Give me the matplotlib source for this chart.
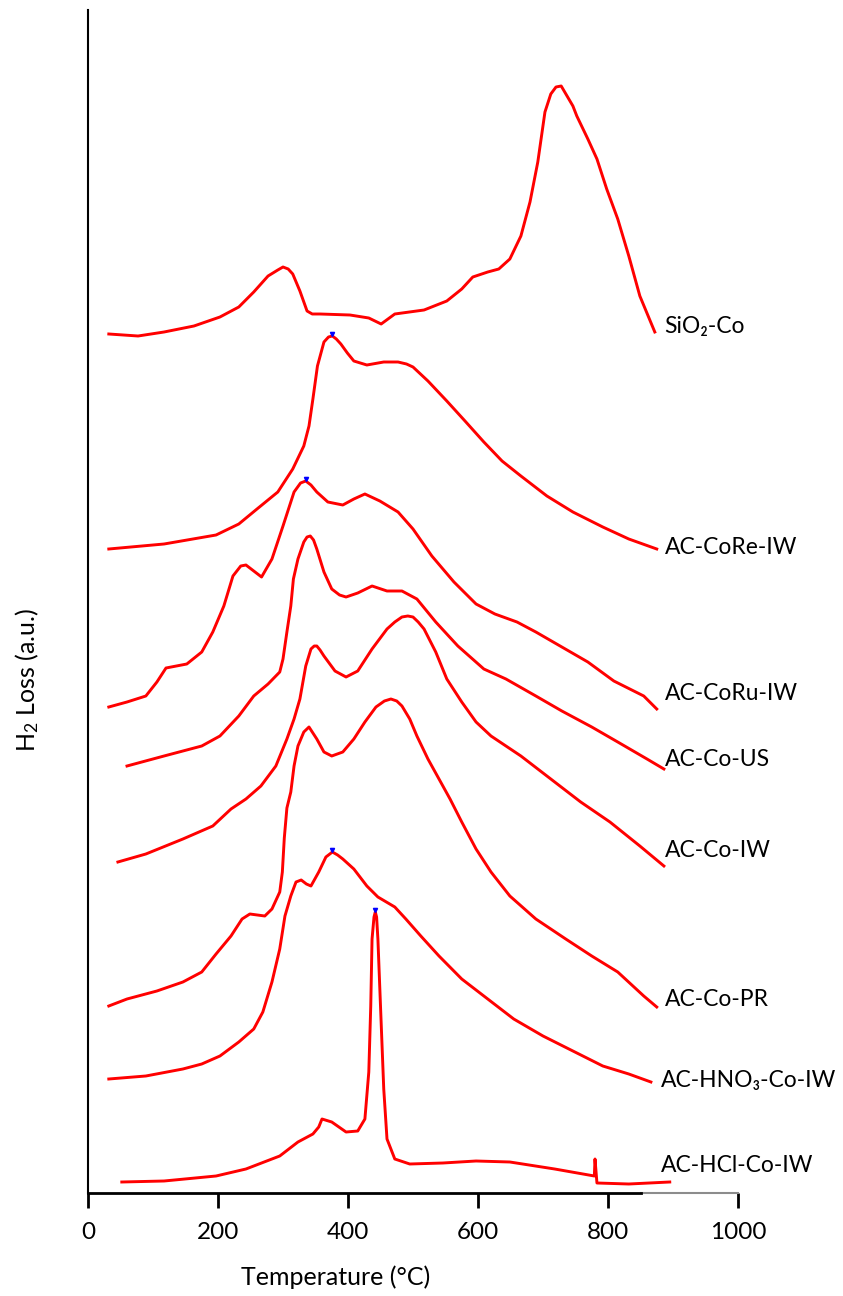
import matplotlib
matplotlib.use('Agg')
import matplotlib.pyplot as plt

plt.rcParams['font.family'] = ['Lato', 'DejaVu Sans']
plt.rcParams['mathtext.fontset'] = 'custom'
plt.rcParams['mathtext.rm'] = 'Lato'
plt.rcParams['mathtext.default'] = 'regular'

# TPR profiles, temperature (C) vs H2 signal (a.u., curves already offset)
sio2_t = [32, 77, 117, 163, 203, 232, 255, 277, 292, 300, 308, 315, 326, 337, 345, 357,
          403, 432, 451, 472, 517, 552, 575, 592, 615, 632, 649, 666, 680, 692, 703,
          712, 720, 728, 737, 746, 752, 769, 783, 798, 815, 832, 849, 872]
sio2_y = [859, 857, 861, 867, 876, 886, 901, 917, 923, 926, 924, 919, 902, 882, 879, 879,
          878, 875, 869, 879, 883, 892, 904, 916, 921, 924, 934, 957, 991, 1031, 1081,
          1099, 1106, 1107, 1097, 1087, 1077, 1054, 1034, 1004, 974, 937, 897, 861]

core_t = [32, 117, 197, 232, 260, 292, 315, 332, 340, 346, 353, 363, 370, 376, 382, 389,
          399, 409, 429, 455, 477, 490, 500, 523, 552, 580, 609, 637, 666, 706, 746,
          792, 832, 875]
core_y = [644, 649, 658, 669, 684, 701, 724, 747, 767, 794, 827, 851, 856, 857, 854, 849,
          840, 832, 828, 831, 831, 829, 826, 812, 792, 772, 751, 732, 717, 697, 681,
          666, 654, 644]

coru_t = [32, 60, 89, 106, 120, 152, 175, 192, 209, 223, 235, 243, 255, 267, 283, 300,
          317, 327, 335, 343, 352, 369, 392, 409, 426, 449, 477, 500, 529, 563, 597,
          626, 660, 689, 729, 769, 809, 855, 875]
coru_y = [486, 491, 497, 511, 525, 529, 541, 561, 587, 617, 627, 628, 622, 616, 634, 667,
          701, 710, 712, 708, 701, 691, 688, 694, 699, 692, 681, 664, 637, 611, 589,
          579, 571, 561, 546, 531, 512, 497, 484]

cous_t = [60, 117, 175, 203, 232, 255, 277, 295, 300, 306, 312, 316, 323, 332, 337, 342,
          347, 352, 363, 375, 387, 397, 415, 437, 460, 483, 506, 535, 569, 609, 643,
          689, 729, 775, 815, 860, 886]
cous_y = [427, 437, 447, 457, 477, 497, 509, 521, 534, 561, 587, 614, 634, 651, 656, 657,
          653, 644, 621, 604, 598, 596, 600, 607, 602, 602, 594, 571, 547, 524, 514,
          497, 482, 466, 451, 434, 424]

coiw_t = [46, 89, 146, 192, 220, 243, 266, 289, 306, 317, 326, 335, 343, 348, 352, 357,
          363, 380, 397, 415, 437, 460, 472, 483, 492, 500, 508, 517, 535, 552, 575,
          597, 620, 666, 712, 758, 803, 849, 886]
coiw_y = [331, 339, 354, 367, 384, 394, 407, 427, 454, 474, 494, 527, 544, 547, 547, 543,
          537, 522, 516, 522, 544, 564, 571, 576, 577, 576, 571, 564, 541, 514, 491,
          471, 457, 437, 414, 391, 371, 347, 327]

copr_t = [32, 60, 106, 146, 175, 197, 220, 237, 249, 272, 283, 295, 299, 302, 306, 312,
          317, 323, 332, 340, 352, 363, 375, 392, 409, 426, 443, 456, 466, 475, 483,
          495, 506, 523, 540, 557, 575, 597, 620, 649, 689, 735, 775, 815, 855, 875]
copr_y = [187, 194, 202, 211, 221, 239, 257, 274, 279, 277, 284, 301, 321, 355, 385, 401,
          427, 447, 461, 466, 454, 441, 437, 441, 454, 471, 486, 492, 494, 492, 487,
          474, 457, 434, 414, 394, 371, 344, 321, 297, 274, 254, 237, 221, 197, 186]

hno3_t = [32, 89, 146, 175, 203, 232, 255, 269, 283, 295, 303, 312, 320, 328, 336, 343,
          355, 366, 376, 384, 392, 409, 429, 446, 472, 489, 512, 540, 575, 609, 655,
          700, 746, 792, 832, 866]
hno3_y = [114, 117, 124, 129, 137, 151, 164, 181, 211, 244, 277, 297, 311, 313, 309, 307,
          321, 336, 341, 338, 334, 324, 307, 296, 286, 274, 257, 237, 214, 197, 174,
          157, 142, 127, 119, 111]

hcl_t = [52, 117, 197, 243, 295, 323, 346, 355, 360, 375, 397, 415, 426, 432, 435, 437,
         440, 442, 444, 446, 450, 455, 460, 472, 495, 546, 597, 649, 718, 779, 780,
         783, 832, 895]
hcl_y = [11, 12, 17, 24, 37, 51, 59, 66, 74, 71, 61, 62, 74, 121, 187, 254,
         276, 281, 276, 254, 187, 104, 54, 34, 29, 30, 32, 31, 24, 17, 34,
         10, 9, 11]

names = ['SiO\u2082-Co', 'AC-CoRe-IW', 'AC-CoRu-IW', 'AC-Co-US', 'AC-Co-IW',
         'AC-Co-PR', 'AC-HNO\u2083-Co-IW', 'AC-HCl-Co-IW']
label_y = [867, 646, 500, 434, 343, 194, 113, 27]
label_t = [887, 887, 887, 887, 887, 887, 881, 881]

curves = [(sio2_t, sio2_y), (core_t, core_y), (coru_t, coru_y), (cous_t, cous_y),
          (coiw_t, coiw_y), (copr_t, copr_y), (hno3_t, hno3_y), (hcl_t, hcl_y)]

fig = plt.figure(figsize=(8.43, 12.96), dpi=100)
ax = fig.add_axes([88 / 843, 1 - 1193 / 1296, 650 / 843, 1183 / 1296])

for t, y in curves:
    ax.plot(t, y, color='#ff0000', lw=2.1, solid_joinstyle='round', clip_on=False)

# little blue peak marks seen on some curves
for t, y in [curves[1], curves[2], curves[6], curves[7]]:
    i = y.index(max(y))
    ax.plot(t[i], y[i] + 2, marker='v', ms=3, color='blue', clip_on=False)

for name, lt, ly in zip(names, label_t, label_y):
    ax.text(lt, ly, name, fontsize=16.5, ha='left', va='center', clip_on=False)

ax.set_xlim(0, 1000)
ax.set_ylim(0, 1183)
ax.spines['top'].set_visible(False)
ax.spines['right'].set_visible(False)
ax.spines['left'].set_linewidth(1.5)
ax.spines['bottom'].set_linewidth(2)
ax.spines['bottom'].set_bounds(0, 850)
ax.plot([850, 1000], [0, 0], color='0.55', lw=1.5, clip_on=False)

ax.set_yticks([])
ax.set_xticks([0, 200, 400, 600, 800, 1000])
ax.tick_params(axis='x', direction='out', length=11, width=2, pad=10, labelsize=17.5)
ax.xaxis.get_major_ticks()[-1].tick1line.set_color('0.35')

fig.text(336 / 843, 1 - 1277 / 1296, 'Temperature (\u00b0C)', ha='center', va='center',
         fontsize=18)
fig.text(27 / 843, 1 - 680 / 1296, 'H$_2$ Loss (a.u.)', ha='center', va='center',
         rotation=90, fontsize=18)

fig.savefig('out.png', dpi=100)
